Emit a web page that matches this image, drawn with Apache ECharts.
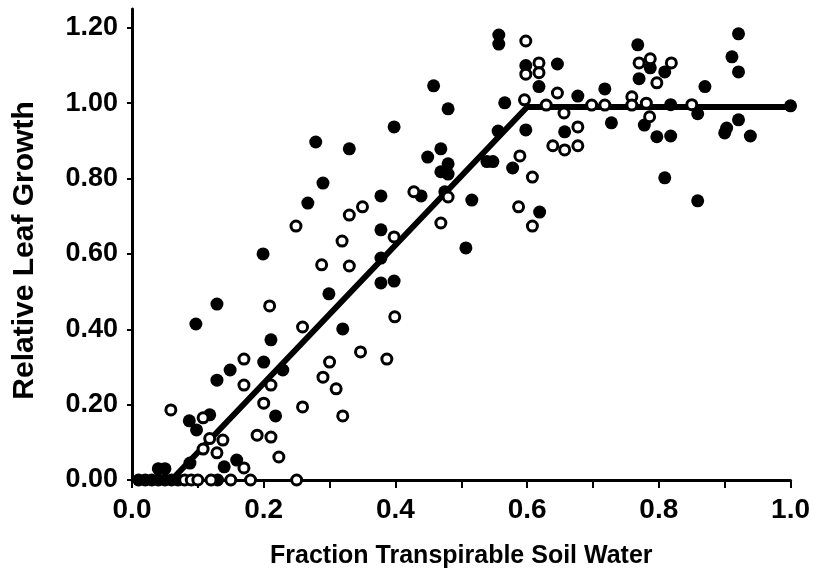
<!DOCTYPE html>
<html>
<head>
<meta charset="utf-8">
<script src="https://cdn.jsdelivr.net/npm/echarts@6/dist/echarts.min.js"></script>
<style>
  html, body { margin: 0; padding: 0; background: #fff; }
  #chart { width: 813px; height: 583px; }
</style>
</head>
<body>
<div id="chart"></div>
<script>
// 实心点 (filled)
const filledPoints = [
  [0.01, 0], [0.02, 0], [0.03, 0], [0.04, 0], [0.05, 0], [0.06, 0], [0.07, 0], [0.13, 0],
  [0.04, 0.03], [0.05, 0.03], [0.088, 0.045], [0.14, 0.035], [0.159, 0.053],
  [0.087, 0.157], [0.098, 0.133], [0.118, 0.173], [0.218, 0.17],
  [0.129, 0.265], [0.149, 0.292], [0.229, 0.292], [0.2, 0.313], [0.211, 0.372],
  [0.097, 0.414], [0.129, 0.467], [0.199, 0.6],
  [0.32, 0.401], [0.299, 0.494], [0.378, 0.523], [0.398, 0.528], [0.378, 0.589],
  [0.507, 0.616], [0.378, 0.664], [0.267, 0.735], [0.378, 0.754], [0.439, 0.754],
  [0.475, 0.765], [0.516, 0.743], [0.29, 0.788],
  [0.469, 0.818], [0.48, 0.812], [0.48, 0.839], [0.449, 0.857], [0.469, 0.879],
  [0.33, 0.879], [0.279, 0.897], [0.398, 0.937], [0.48, 0.985], [0.458, 1.046],
  [0.539, 0.845], [0.548, 0.845], [0.556, 0.926], [0.578, 0.828], [0.566, 1.001],
  [0.557, 1.181], [0.557, 1.157], [0.598, 1.10], [0.618, 1.044], [0.646, 1.104],
  [0.598, 0.929], [0.657, 0.924], [0.677, 1.019], [0.718, 1.038], [0.728, 0.948],
  [0.619, 0.711],
  [0.768, 1.155], [0.787, 1.094], [0.77, 1.065], [0.778, 0.942], [0.797, 0.911],
  [0.809, 1.083], [0.818, 0.996], [0.818, 0.913], [0.809, 0.802], [0.859, 0.972],
  [0.87, 1.044], [0.859, 0.741], [0.921, 1.184], [0.911, 1.123], [0.921, 1.083],
  [0.921, 0.956], [0.903, 0.934], [0.9, 0.921], [0.939, 0.913], [1.0, 0.993]
]

// 空心点 (open)
const openPoints = [
  [0.08, 0], [0.09, 0], [0.10, 0], [0.12, 0], [0.15, 0], [0.18, 0], [0.25, 0],
  [0.17, 0.032], [0.223, 0.061], [0.129, 0.072], [0.108, 0.082], [0.138, 0.106],
  [0.118, 0.11], [0.19, 0.119], [0.211, 0.114], [0.108, 0.165], [0.059, 0.186],
  [0.259, 0.194], [0.2, 0.204], [0.17, 0.252], [0.211, 0.252], [0.17, 0.321],
  [0.259, 0.406], [0.209, 0.462], [0.249, 0.674], [0.288, 0.571],
  [0.32, 0.17], [0.31, 0.242], [0.29, 0.273], [0.3, 0.313], [0.387, 0.321],
  [0.347, 0.34], [0.399, 0.433], [0.33, 0.568], [0.319, 0.634], [0.398, 0.645],
  [0.469, 0.682], [0.33, 0.703], [0.35, 0.725], [0.428, 0.765], [0.48, 0.751],
  [0.598, 1.165], [0.598, 1.077], [0.618, 1.107], [0.618, 1.081], [0.596, 1.009],
  [0.629, 0.995], [0.646, 1.027], [0.656, 0.974], [0.698, 0.995], [0.718, 0.995],
  [0.759, 1.017], [0.759, 0.995], [0.77, 1.107], [0.787, 1.118], [0.797, 1.054],
  [0.781, 1.0], [0.786, 0.964], [0.677, 0.937], [0.639, 0.887], [0.657, 0.876],
  [0.677, 0.887], [0.589, 0.86], [0.608, 0.804], [0.587, 0.725], [0.608, 0.674],
  [0.819, 1.107], [0.85, 0.996]
]

// 拟合线
const fitLine = [[0.06, 0], [0.6, 0.99], [1.0, 0.99]]

const xTicks = [0, 0.1, 0.2, 0.3, 0.4, 0.5, 0.6, 0.7, 0.8, 0.9, 1.0]
const xLabels = [0, 0.2, 0.4, 0.6, 0.8, 1.0]
const yTicks = [0, 0.2, 0.4, 0.6, 0.8, 1.0, 1.2]

const boldFont = "'Liberation Sans', Arial, sans-serif"

const option = {
  animation: false,
  backgroundColor: '#fff',
  grid: {
    left: 132,
    right: 22,
    top: 9,
    bottom: 103
  },
  xAxis: {
    type: 'value',
    min: 0,
    max: 1,
    name: 'Fraction Transpirable Soil Water',
    nameLocation: 'middle',
    nameGap: 64,
    nameTextStyle: {
      color: '#000',
      fontFamily: boldFont,
      fontWeight: 'bold',
      fontSize: 25
    },
    axisLine: { show: true, onZero: false, lineStyle: { color: '#000', width: 3 } },
    axisTick: {
      show: true,
      length: 8,
      customValues: xTicks,
      lineStyle: { color: '#000', width: 2 }
    },
    axisLabel: {
      customValues: xLabels,
      margin: 16,
      color: '#000',
      fontFamily: boldFont,
      fontWeight: 'bold',
      fontSize: 28,
      formatter: v => v.toFixed(1)
    },
    splitLine: { show: false }
  },
  yAxis: {
    type: 'value',
    min: 0,
    max: 1.25,
    name: 'Relative Leaf Growth',
    nameLocation: 'middle',
    nameGap: 92,
    nameTextStyle: {
      color: '#000',
      fontFamily: boldFont,
      fontWeight: 'bold',
      fontSize: 30,
      padding: [0, 12, 0, 0]
    },
    axisLine: { show: true, onZero: false, lineStyle: { color: '#000', width: 3 } },
    axisTick: {
      show: true,
      length: 5,
      customValues: yTicks,
      lineStyle: { color: '#000', width: 2 }
    },
    axisLabel: {
      customValues: yTicks,
      margin: 14,
      color: '#000',
      fontFamily: boldFont,
      fontWeight: 'bold',
      fontSize: 27,
      verticalAlign: 'middle',
      padding: [0, 0, 12, 0],
      formatter: v => v.toFixed(2)
    },
    splitLine: { show: false }
  },
  series: [
    {
      type: 'line',
      data: fitLine,
      symbol: 'none',
      z: 1,
      lineStyle: { color: '#000', width: 6 }
    },
    {
      type: 'scatter',
      data: filledPoints,
      symbol: 'circle',
      symbolSize: 13,
      z: 3,
      itemStyle: { color: '#000', opacity: 1 }
    },
    {
      type: 'scatter',
      data: openPoints,
      symbol: 'circle',
      symbolSize: 10,
      z: 4,
      itemStyle: { color: '#fff', borderColor: '#000', borderWidth: 3, opacity: 1 }
    }
  ]
}

const myChart = echarts.init(document.getElementById('chart'))
myChart.setOption(option)
</script>
</body>
</html>
